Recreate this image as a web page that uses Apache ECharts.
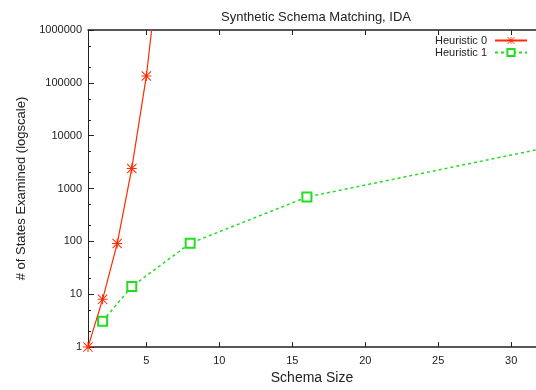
<!DOCTYPE html>
<html>
<head>
<meta charset="utf-8">
<script src="https://cdn.jsdelivr.net/npm/echarts@6/dist/echarts.min.js"></script>
<style>
  html, body { margin: 0; padding: 0; background: #fff; }
  #chart { width: 536px; height: 390px; }
</style>
</head>
<body>
<div id="chart"></div>
<script>
// data
var h0Sizes = [1, 2, 3, 4, 5, 6];
var h0States = [1, 8, 91, 2400, 135000, 35000000];
var h1Sizes = [2, 4, 8, 16, 32];
var h1States = [3.1, 14, 92, 690, 5600];
var xTicks = [5, 10, 15, 20, 25, 30];
var yTicks = [1, 10, 100, 1000, 10000, 100000, 1000000];
var yMinor = [2, 5, 20, 50, 200, 500, 2000, 5000, 20000, 50000, 200000, 500000];

var asterisk = 'path://M0,4.5h10v1h-10z M4.5,0h1v10h-1z M0.7,0L10,9.3L9.3,10L0,0.7z M9.3,0L10,0.7L0.7,10L0,9.3z';

function pairs(xs, ys) {
    var out = [];
    for (var i = 0; i < xs.length; i++) out.push([xs[i], ys[i]]);
    return out;
}

var chart = echarts.init(document.getElementById('chart'));
var font = 'Liberation Sans, Arial, sans-serif';

var option = {
    animation: false,
    title: {
        text: 'Synthetic Schema Matching, IDA',
        left: 311, top: 6, textAlign: 'center',
        textStyle: { fontFamily: font, fontSize: 13, fontWeight: 'normal', color: '#222' }
    },
    legend: {
        orient: 'vertical',
        right: 8, top: 35, padding: 0,
        align: 'right',
        itemWidth: 32, itemHeight: 9, itemGap: 1,
        textStyle: { fontFamily: font, fontSize: 11, color: '#222', padding: [0, 3, 0, 0] },
        data: ['Heuristic 0', 'Heuristic 1']
    },
    grid: { left: 88, right: 0, top: 30, bottom: 37 },
    xAxis: [{
        type: 'value', min: 1, max: 31.7,
        name: 'Schema Size', nameLocation: 'middle', nameGap: 19,
        nameTextStyle: { fontFamily: font, fontSize: 14, color: '#222' },
        axisLine: { lineStyle: { color: '#222', width: 1.5 } },
        axisTick: { inside: true, length: 5, customValues: xTicks, lineStyle: { color: '#222' } },
        axisLabel: { customValues: xTicks, fontFamily: font, fontSize: 11, color: '#222', margin: 8 },
        splitLine: { show: false }
    }, {
        type: 'value', min: 1, max: 31.7, position: 'top',
        axisLine: { show: true, onZero: false, lineStyle: { color: '#222', width: 1.5 } },
        axisTick: { inside: true, length: 5, customValues: xTicks, lineStyle: { color: '#222' } },
        axisLabel: { show: false },
        splitLine: { show: false }
    }],
    yAxis: [{
        type: 'log', min: 1, max: 1000000, logBase: 10,
        name: '# of States Examined (logscale)', nameLocation: 'middle', nameGap: 57,
        nameTextStyle: { fontFamily: font, fontSize: 13, color: '#222' },
        axisLine: { show: true, lineStyle: { color: '#222', width: 1 } },
        axisTick: { inside: true, length: 6, customValues: yTicks, lineStyle: { color: '#222' } },
        axisLabel: {
            customValues: yTicks, fontFamily: font, fontSize: 11, color: '#222', margin: 6,
            formatter: function (v) { return String(Math.round(v)); }
        },
        splitLine: { show: false }
    }, {
        type: 'log', min: 1, max: 1000000, logBase: 10, position: 'left',
        axisLine: { show: false },
        axisTick: { inside: true, length: 3, customValues: yMinor, lineStyle: { color: '#222' } },
        axisLabel: { show: false },
        splitLine: { show: false }
    }],
    series: [{
        name: 'Heuristic 0',
        type: 'line',
        data: pairs(h0Sizes, h0States),
        symbol: asterisk, symbolSize: 10,
        color: '#ff2a00',
        lineStyle: { color: '#ff2a00', width: 1.2 },
        itemStyle: { color: '#ff2a00' },
        clip: true, z: 3
    }, {
        name: 'Heuristic 1',
        type: 'line',
        data: pairs(h1Sizes, h1States),
        symbol: 'emptyRect', symbolSize: 9,
        color: '#22dd22',
        lineStyle: { color: '#22dd22', width: 1.5, type: [3, 3] },
        itemStyle: { color: '#22dd22', borderWidth: 1.3 },
        clip: true, z: 2
    }]
};
chart.setOption(option);
</script>
</body>
</html>
